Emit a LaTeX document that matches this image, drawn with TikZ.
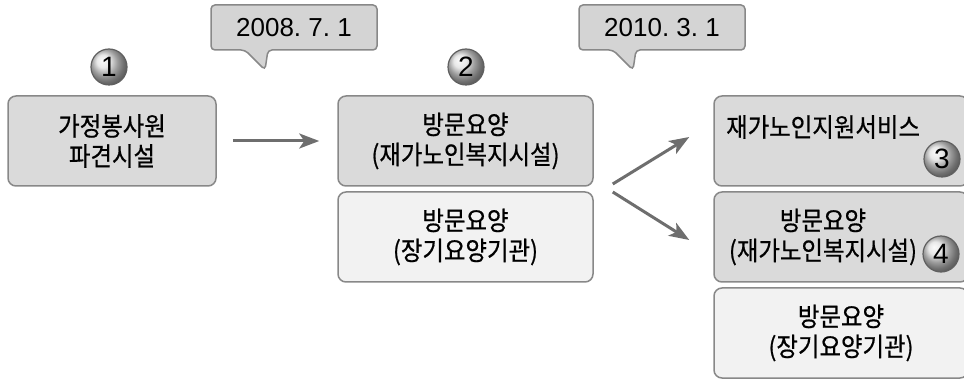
\documentclass[tikz,border=0pt]{standalone}
\usepackage{fontspec}
\setmainfont{Liberation Sans}
\newfontfamily\kr[FakeBold=0.6,FakeStretch=0.9]{Noto Sans CJK KR}
\usetikzlibrary{arrows.meta,calc}
\definecolor{boxdark}{HTML}{DADADA}
\definecolor{boxlight}{HTML}{F2F2F2}
\definecolor{boxline}{HTML}{888888}
\definecolor{tipfill}{HTML}{D4D4D4}
\definecolor{arrowgray}{HTML}{6E6E6E}
\begin{document}
\begin{tikzpicture}[x=1pt,y=-1pt,
  box/.style={draw=boxline, line width=1.5pt, rounded corners=8pt, minimum height=90pt, inner sep=0pt, align=center, font=\kr\fontsize{26}{30}\selectfont},
  dark/.style={box, fill=boxdark},
  light/.style={box, fill=boxlight},
  txt/.style={inner sep=0pt, align=center, font=\kr\fontsize{26}{30}\selectfont},
  ball/.style={circle, draw=gray!75!black, line width=1.2pt, shading=ball, ball color=gray!25, minimum size=36pt, inner sep=0pt, font=\fontsize{28}{28}\selectfont},
  arr/.style={draw=arrowgray, line width=3pt, -{Stealth[length=20pt,width=15pt,inset=5pt]}}]
\useasboundingbox (0,0) rectangle (964,379);
\node[dark, minimum width=208pt] (home) at (112,141) {가정봉사원\\파견시설};
\node[dark, minimum width=255pt] (visit) at (465.5,141) {방문요양\\(재가노인복지시설)};
\node[light, minimum width=255pt] (visitb) at (465.5,237) {방문요양\\(장기요양기관)};
\node[dark, minimum width=254pt] (svc) at (841,141) {};
\node[dark, minimum width=254pt] (visit2) at (841,237) {};
\node[light, minimum width=254pt] (visit2b) at (841,333) {방문요양\\(장기요양기관)};
\node[txt, anchor=west] (svctxt) at (726,127) {재가노인지원서비스};
\node[txt] (visit2txt) at (823,237) {방문요양\\(재가노인복지시설)};
\foreach \x/\d [count=\i] in {211/2008.~7.~1, 579/2010.~3.~1} {
\draw[draw=boxline, fill=tipfill, line width=1.5pt, rounded corners=4pt] (\x+34,50) -- (\x,50) -- (\x,5) -- (\x+166,5) -- (\x+166,50) -- (\x+57,50) -- (\x+54,70) -- cycle;
\node[font=\fontsize{26}{26}\selectfont] (date\i) at (\x+83,28) {\d};
}
\foreach \n/\x/\y in {1/109/67, 2/466/67, 3/942/159, 4/941/254} {
\node[ball] (no\n) at (\x,\y) {\n};
}
\draw[arr, shorten <=16pt, shorten >=18pt] (home) -- (visit);
\draw[arr] ($(visit.south east)!.5!(visitb.north east)+(19,-5)$) -- ($(svc.west)+(-24,-4)$);
\draw[arr] ($(visit.south east)!.5!(visitb.north east)+(19,3)$) -- ($(visit2.west)+(-24,3)$);
\end{tikzpicture}
\end{document}
